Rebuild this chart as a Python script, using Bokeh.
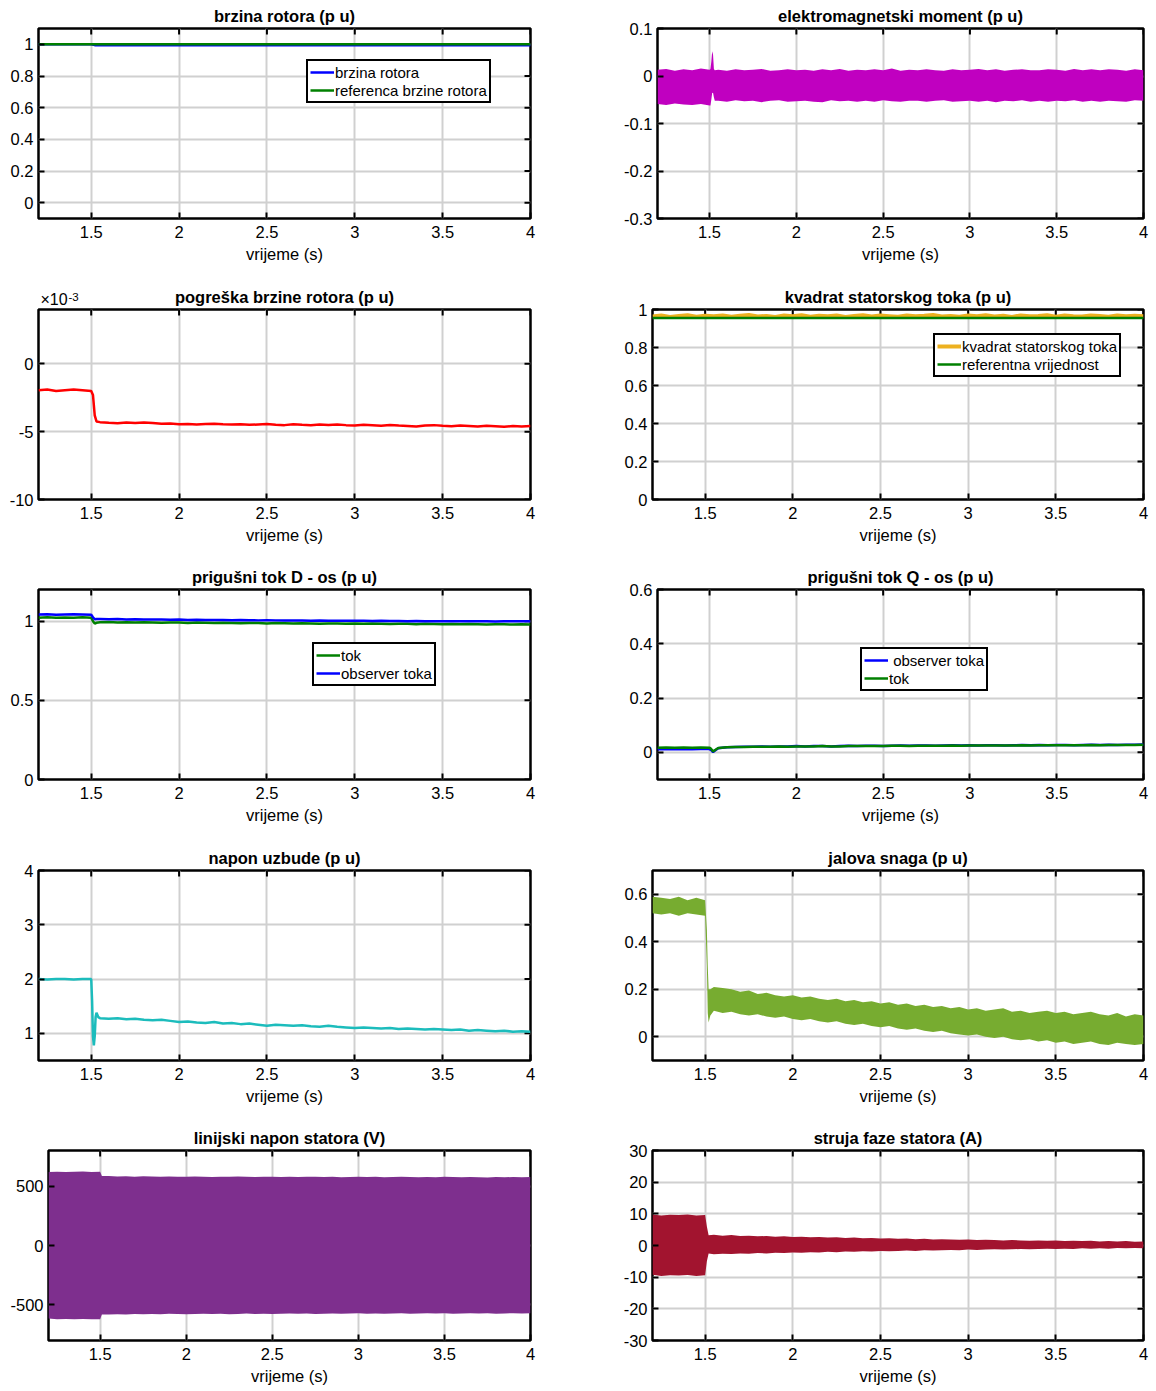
import math
from bokeh.plotting import figure
from bokeh.models import FixedTicker, Legend, LegendItem, Range1d
from bokeh.core.properties import value
from bokeh.layouts import column, row
from bokeh.embed import file_html
from bokeh.resources import INLINE

FONT = "Liberation Sans"
X_RANGE = (1.2, 4.0)
X_TICKS = [1.5, 2, 2.5, 3, 3.5, 4]
X_TICK_LABELS = ["1.5", "2", "2.5", "3", "3.5", "4"]
X_LABEL = "vrijeme (s)"

# time bases (s)
T_PRE = [1.2, 1.25, 1.3, 1.35, 1.4, 1.45, 1.5]
T_POST = [1.55, 1.6, 1.65, 1.7, 1.75, 1.8, 1.85, 1.9, 1.95, 2.0,
          2.05, 2.1, 2.15, 2.2, 2.25, 2.3, 2.35, 2.4, 2.45, 2.5,
          2.55, 2.6, 2.65, 2.7, 2.75, 2.8, 2.85, 2.9, 2.95, 3.0,
          3.05, 3.1, 3.15, 3.2, 3.25, 3.3, 3.35, 3.4, 3.45, 3.5,
          3.55, 3.6, 3.65, 3.7, 3.75, 3.8, 3.85, 3.9, 3.95, 4.0]

# 1) brzina rotora (p u)
speed_t = [1.2, 1.5, 1.52, 4.0]
speed_rotor = [1.0, 1.0, 0.995, 0.995]
speed_ref = [1.0, 1.0, 1.0, 1.0]

# 2) elektromagnetski moment (p u) - envelope of the band
torque_t = T_PRE + [1.505, 1.51, 1.515, 1.52, 1.525, 1.53] + T_POST
torque_hi = [0.013, 0.015, 0.011, 0.014, 0.012, 0.016, 0.013] + \
    [0.015, 0.03, 0.052, 0.045, 0.015, 0.012] + \
    [0.013, 0.011, 0.014, 0.012, 0.013, 0.015, 0.011, 0.012, 0.014, 0.012,
     0.013, 0.011, 0.014, 0.012, 0.015, 0.011, 0.013, 0.012, 0.014, 0.012,
     0.016, 0.011, 0.013, 0.012, 0.014, 0.012, 0.011, 0.014, 0.012, 0.013,
     0.015, 0.012, 0.014, 0.011, 0.013, 0.014, 0.012, 0.012, 0.014, 0.013,
     0.011, 0.015, 0.012, 0.014, 0.012, 0.014, 0.013, 0.011, 0.014, 0.012]
torque_lo = [-0.059, -0.061, -0.058, -0.060, -0.061, -0.059, -0.062] + \
    [-0.062, -0.05, -0.036, -0.035, -0.045, -0.052] + \
    [-0.052, -0.054, -0.051, -0.053, -0.052, -0.055, -0.052, -0.051, -0.054, -0.053,
     -0.052, -0.054, -0.055, -0.051, -0.053, -0.052, -0.054, -0.052, -0.054, -0.051,
     -0.053, -0.054, -0.052, -0.052, -0.054, -0.052, -0.051, -0.054, -0.053, -0.052,
     -0.054, -0.052, -0.055, -0.052, -0.053, -0.051, -0.054, -0.052, -0.054, -0.052,
     -0.053, -0.051, -0.054, -0.052, -0.054, -0.052, -0.053, -0.054, -0.051, -0.052]

# 3) pogreska brzine rotora (x 10^-3 p u)
err_t = T_PRE + [1.51, 1.52, 1.53] + T_POST
err_val = [-1.95, -1.9, -2.0, -1.95, -1.9, -1.95, -2.0] + [-2.3, -3.8, -4.25] + \
    [-4.30, -4.35, -4.38, -4.33, -4.36, -4.32, -4.37, -4.42, -4.40, -4.45,
     -4.43, -4.47, -4.44, -4.42, -4.46, -4.48, -4.45, -4.50, -4.47, -4.44,
     -4.49, -4.52, -4.46, -4.50, -4.53, -4.48, -4.51, -4.47, -4.52, -4.55,
     -4.50, -4.53, -4.56, -4.51, -4.55, -4.58, -4.62, -4.55, -4.52, -4.57,
     -4.60, -4.55, -4.58, -4.62, -4.57, -4.60, -4.64, -4.58, -4.62, -4.58]
err_scale_text = "×10"
err_scale_exp = "-3"

# 4) kvadrat statorskog toka (p u)
flux_t = T_PRE + T_POST
flux_sq = [0.963, 0.968, 0.961, 0.966, 0.970, 0.962, 0.967] + \
    [0.964, 0.969, 0.962, 0.967, 0.971, 0.963, 0.966, 0.961, 0.968, 0.965,
     0.970, 0.962, 0.967, 0.964, 0.969, 0.961, 0.966, 0.970, 0.963, 0.968,
     0.965, 0.962, 0.969, 0.964, 0.967, 0.971, 0.963, 0.966, 0.962, 0.968,
     0.965, 0.970, 0.963, 0.967, 0.961, 0.969, 0.964, 0.966, 0.970, 0.962,
     0.968, 0.965, 0.963, 0.969, 0.966, 0.962, 0.968, 0.964, 0.967, 0.965]
flux_ref_t = [1.2, 4.0]
flux_ref = [0.955, 0.955]

# 5) prigusni tok D - os (p u)
dflux_t = T_PRE + [1.51, 1.52, 1.53] + T_POST
dflux_tok = [1.022, 1.024, 1.021, 1.023, 1.022, 1.024, 1.022] + [1.00, 0.985, 0.99] + \
    [0.993, 0.994, 0.992, 0.993, 0.991, 0.993, 0.992, 0.990, 0.992, 0.991,
     0.989, 0.991, 0.990, 0.988, 0.990, 0.989, 0.987, 0.989, 0.988, 0.986,
     0.988, 0.987, 0.985, 0.987, 0.986, 0.984, 0.986, 0.985, 0.984, 0.985,
     0.983, 0.985, 0.984, 0.982, 0.984, 0.983, 0.981, 0.983, 0.982, 0.981,
     0.982, 0.980, 0.982, 0.981, 0.979, 0.981, 0.980, 0.979, 0.980, 0.979]
dflux_obs = [1.042, 1.043, 1.041, 1.042, 1.043, 1.042, 1.041] + [1.025, 1.012, 1.013] + \
    [1.013, 1.012, 1.013, 1.011, 1.012, 1.010, 1.011, 1.010, 1.009, 1.010,
     1.008, 1.009, 1.008, 1.007, 1.008, 1.006, 1.007, 1.006, 1.005, 1.006,
     1.005, 1.004, 1.005, 1.004, 1.003, 1.004, 1.003, 1.003, 1.002, 1.003,
     1.002, 1.001, 1.002, 1.001, 1.001, 1.000, 1.001, 1.000, 0.999, 1.000,
     0.999, 1.000, 0.999, 1.000, 0.999, 0.998, 0.999, 1.000, 0.999, 0.999]

# 6) prigusni tok Q - os (p u)
qflux_t = T_PRE + [1.51, 1.52, 1.53] + T_POST
qflux_obs = [0.011, 0.012, 0.011, 0.012, 0.011, 0.012, 0.012] + [0.008, 0.001, 0.006] + \
    [0.015, 0.019, 0.020, 0.021, 0.021, 0.022, 0.021, 0.022, 0.022, 0.023,
     0.022, 0.023, 0.023, 0.022, 0.023, 0.024, 0.023, 0.024, 0.024, 0.023,
     0.024, 0.025, 0.024, 0.025, 0.025, 0.024, 0.025, 0.026, 0.025, 0.026,
     0.025, 0.026, 0.026, 0.025, 0.026, 0.027, 0.026, 0.027, 0.026, 0.027,
     0.027, 0.026, 0.027, 0.028, 0.027, 0.028, 0.027, 0.028, 0.028, 0.029]
qflux_tok = [0.017, 0.018, 0.017, 0.018, 0.017, 0.018, 0.017] + [0.012, 0.003, 0.008] + \
    [0.016, 0.019, 0.020, 0.020, 0.021, 0.021, 0.021, 0.022, 0.021, 0.022,
     0.022, 0.022, 0.023, 0.022, 0.022, 0.023, 0.023, 0.023, 0.023, 0.023,
     0.024, 0.024, 0.023, 0.024, 0.024, 0.024, 0.024, 0.025, 0.024, 0.025,
     0.025, 0.025, 0.025, 0.025, 0.025, 0.026, 0.025, 0.026, 0.026, 0.026,
     0.026, 0.026, 0.026, 0.027, 0.026, 0.027, 0.027, 0.027, 0.027, 0.028]

# 7) napon uzbude (p u)
field_t = T_PRE + [1.505, 1.51, 1.515, 1.52, 1.525, 1.53, 1.54] + T_POST
field_v = [2.0, 1.99, 2.0, 2.0, 1.99, 2.0, 2.0] + [1.6, 0.95, 0.78, 0.95, 1.3, 1.38, 1.30] + \
    [1.28, 1.27, 1.28, 1.26, 1.27, 1.25, 1.24, 1.25, 1.23, 1.21,
     1.22, 1.20, 1.19, 1.21, 1.18, 1.19, 1.17, 1.18, 1.16, 1.14,
     1.16, 1.15, 1.14, 1.15, 1.13, 1.12, 1.14, 1.12, 1.11, 1.10,
     1.11, 1.10, 1.09, 1.10, 1.08, 1.09, 1.08, 1.07, 1.08, 1.07,
     1.06, 1.07, 1.05, 1.06, 1.05, 1.04, 1.05, 1.03, 1.04, 1.03]

# 8) jalova snaga (p u) - envelope of the band
q_t = T_PRE + [1.51, 1.515, 1.52, 1.53] + T_POST
q_hi = [0.59, 0.585, 0.58, 0.59, 0.575, 0.585, 0.575] + [0.45, 0.30, 0.20, 0.20] + \
    [0.21, 0.205, 0.20, 0.19, 0.195, 0.18, 0.185, 0.175, 0.17, 0.175,
     0.165, 0.17, 0.16, 0.155, 0.16, 0.15, 0.155, 0.145, 0.15, 0.14,
     0.145, 0.135, 0.14, 0.13, 0.135, 0.125, 0.13, 0.12, 0.125, 0.115,
     0.12, 0.11, 0.115, 0.12, 0.105, 0.11, 0.10, 0.105, 0.11, 0.10,
     0.105, 0.095, 0.10, 0.105, 0.095, 0.09, 0.10, 0.085, 0.095, 0.09]
q_lo = [0.52, 0.515, 0.52, 0.51, 0.52, 0.515, 0.51] + [0.30, 0.10, 0.06, 0.09] + \
    [0.11, 0.10, 0.105, 0.095, 0.09, 0.095, 0.085, 0.08, 0.085, 0.075,
     0.07, 0.075, 0.065, 0.06, 0.065, 0.055, 0.05, 0.055, 0.045, 0.04,
     0.045, 0.035, 0.03, 0.035, 0.025, 0.02, 0.025, 0.015, 0.01, 0.005,
     0.01, 0.0, -0.005, 0.0, -0.01, -0.015, -0.01, -0.02, -0.015, -0.025,
     -0.02, -0.03, -0.025, -0.02, -0.03, -0.035, -0.025, -0.03, -0.035, -0.03]

# 9) linijski napon statora (V) - envelope of the band
u_t = T_PRE + [1.51] + T_POST
u_hi = [620, 622, 618, 621, 623, 619, 622] + [585] + \
    [585, 582, 584, 580, 583, 581, 579, 582, 580, 578,
     581, 579, 577, 580, 578, 581, 579, 577, 580, 578,
     576, 579, 577, 580, 578, 576, 578, 575, 577, 579,
     576, 578, 575, 577, 579, 576, 574, 577, 575, 578,
     576, 574, 577, 575, 573, 576, 574, 577, 575, 576]
u_lo = [-615, -620, -618, -622, -619, -621, -620] + [-580] + \
    [-580, -578, -581, -577, -579, -576, -578, -575, -577, -579,
     -576, -574, -577, -575, -578, -576, -573, -576, -574, -577,
     -575, -572, -575, -573, -576, -574, -572, -575, -573, -571,
     -574, -572, -575, -573, -571, -574, -572, -570, -573, -571,
     -574, -572, -570, -573, -571, -574, -572, -570, -573, -571]

# 10) struja faze statora (A) - envelope of the band
i_t = T_PRE + [1.51, 1.52] + T_POST
i_hi = [9.8, 9.5, 9.7, 9.6, 9.8, 9.5, 9.6] + [6.0, 3.2] + \
    [3.4, 3.1, 3.3, 3.0, 3.1, 2.9, 3.0, 2.8, 2.9, 2.7,
     2.8, 2.6, 2.7, 2.5, 2.6, 2.4, 2.5, 2.3, 2.4, 2.2,
     2.3, 2.1, 2.2, 2.0, 2.1, 1.9, 2.0, 1.9, 1.8, 1.9,
     1.7, 1.8, 1.7, 1.6, 1.7, 1.6, 1.5, 1.6, 1.5, 1.6,
     1.4, 1.5, 1.4, 1.5, 1.3, 1.4, 1.3, 1.4, 1.2, 1.3]
i_lo = [-9.2, -9.6, -9.4, -9.5, -9.3, -9.6, -9.4] + [-5.0, -2.5] + \
    [-2.8, -2.6, -2.7, -2.5, -2.6, -2.4, -2.5, -2.3, -2.4, -2.2,
     -2.3, -2.1, -2.2, -2.0, -2.1, -1.9, -2.0, -1.8, -1.9, -1.7,
     -1.8, -1.7, -1.6, -1.7, -1.5, -1.6, -1.5, -1.4, -1.5, -1.3,
     -1.4, -1.3, -1.2, -1.3, -1.2, -1.1, -1.2, -1.1, -1.0, -1.1,
     -1.0, -1.1, -0.9, -1.0, -0.9, -1.0, -0.8, -0.9, -0.8, -0.9]

for tt, *ys in [(torque_t, torque_hi, torque_lo), (err_t, err_val), (flux_t, flux_sq),
                (dflux_t, dflux_tok, dflux_obs), (qflux_t, qflux_obs, qflux_tok),
                (field_t, field_v), (q_t, q_hi, q_lo), (u_t, u_hi, u_lo), (i_t, i_hi, i_lo)]:
    for yy in ys:
        assert len(tt) == len(yy), (len(tt), len(yy))

BLUE = "#0000ff"
GREEN = "#008000"
LW = 2.5
FIG_W = 578
TXT = "16.5px"


def panel(title, y_range, y_ticks, y_labels, left, right, height, bottom):
    p = figure(width=FIG_W, height=height, x_range=Range1d(*X_RANGE), y_range=Range1d(*y_range),
               output_backend="svg", toolbar_location=None,
               min_border_left=left, min_border_right=right, min_border_top=28,
               min_border_bottom=bottom)
    p.title.text = title
    p.title.align = "center"
    p.title.text_font = FONT
    p.title.text_font_size = TXT
    p.title.text_font_style = "bold"
    p.title.text_color = "black"
    p.title.standoff = 8
    p.xaxis.ticker = FixedTicker(ticks=X_TICKS)
    p.xaxis.major_label_overrides = dict(zip(X_TICKS, X_TICK_LABELS))
    p.xaxis.axis_label = X_LABEL
    p.yaxis.ticker = FixedTicker(ticks=y_ticks)
    p.yaxis.major_label_overrides = dict(zip(y_ticks, y_labels))
    for ax in p.axis:
        ax.axis_line_color = None
        ax.major_tick_in = 6
        ax.major_tick_out = 0
        ax.major_tick_line_color = "black"
        ax.major_tick_line_width = 2
        ax.minor_tick_in = 0
        ax.minor_tick_out = 0
        ax.major_label_text_font = FONT
        ax.major_label_text_font_size = TXT
        ax.major_label_text_color = "black"
        ax.major_label_standoff = 5
        ax.axis_label_text_font = FONT
        ax.axis_label_text_font_size = TXT
        ax.axis_label_text_font_style = "normal"
        ax.axis_label_text_color = "black"
    p.xaxis.major_label_standoff = 7
    p.xaxis.axis_label_standoff = 4
    # inward ticks on the top and right edges of the box, at the axis tick values
    p.ray(x=X_TICKS, y=[y_range[1]] * len(X_TICKS), length=6, length_units="screen",
          angle=-math.pi / 2, line_color="black", line_width=2)
    p.ray(x=[X_RANGE[1]] * len(y_ticks), y=y_ticks, length=6, length_units="screen",
          angle=math.pi, line_color="black", line_width=2)
    p.grid.grid_line_color = "#d0d0d0"
    p.grid.grid_line_width = 2
    p.outline_line_color = "black"
    p.outline_line_width = 2.5
    p.outline_line_alpha = 1.0
    return p


def add_legend(p, items, loc):
    lg = Legend(items=[LegendItem(label=l, renderers=[r]) for l, r in items], location=loc,
                border_line_color="black", border_line_width=2, border_line_alpha=1.0,
                background_fill_color="white", background_fill_alpha=1.0,
                label_text_font=FONT, label_text_font_size="15px", label_text_color="black",
                padding=2, spacing=0, margin=0, glyph_width=24, glyph_height=18,
                label_height=18, label_standoff=1)
    p.add_layout(lg)


# --- row 1
p1 = panel("brzina rotora (p u)", (-0.1, 1.1), [0, 0.2, 0.4, 0.6, 0.8, 1],
           ["0", "0.2", "0.4", "0.6", "0.8", "1"], 38, 48, 281, 63)
r1a = p1.line(speed_t, speed_rotor, line_color=BLUE, line_width=LW)
r1b = p1.line(speed_t, speed_ref, line_color=GREEN, line_width=LW)
add_legend(p1, [("brzina rotora", r1a), ("referenca brzine rotora", r1b)], (268, 115))

p2 = panel("elektromagnetski moment (p u)", (-0.3, 0.1), [-0.3, -0.2, -0.1, 0, 0.1],
           ["-0.3", "-0.2", "-0.1", "0", "0.1"], 79, 13, 281, 63)
p2.varea(x=torque_t, y1=torque_lo, y2=torque_hi, fill_color="#c000c0")

# --- row 2
ERR_RANGE = (-10, 4)
p3 = panel("pogreška brzine rotora (p u)", ERR_RANGE, [-10, -5, 0], ["-10", "-5", "0"],
           38, 48, 280, 62)
p3.line(err_t, err_val, line_color="#ff0000", line_width=LW)
# exponent note (x10^-3) just above the top-left corner of the box
p3.text(x=[X_RANGE[0]], y=[ERR_RANGE[1]], text=[err_scale_text], x_offset=2, y_offset=-2,
        text_font=value(FONT), text_font_size=value("16px"), text_color="black",
        text_baseline="bottom", level="overlay")
p3.text(x=[X_RANGE[0]], y=[ERR_RANGE[1]], text=[err_scale_exp], x_offset=30, y_offset=-9,
        text_font=value(FONT), text_font_size=value("11.5px"), text_color="black",
        text_baseline="bottom", level="overlay")

p4 = panel("kvadrat statorskog toka (p u)", (0, 1), [0, 0.2, 0.4, 0.6, 0.8, 1],
           ["0", "0.2", "0.4", "0.6", "0.8", "1"], 74, 13, 280, 62)
r4a = p4.line(flux_t, flux_sq, line_color="#edb120", line_width=4)
r4b = p4.line(flux_ref_t, flux_ref, line_color=GREEN, line_width=LW)
add_legend(p4, [("kvadrat statorskog toka", r4a), ("referentna vrijednost", r4b)], (281, 122))

# --- row 3
p5 = panel("prigušni tok D - os (p u)", (0, 1.2), [0, 0.5, 1], ["0", "0.5", "1"],
           38, 48, 281, 63)
r5a = p5.line(dflux_t, dflux_tok, line_color=GREEN, line_width=LW)
r5b = p5.line(dflux_t, dflux_obs, line_color=BLUE, line_width=LW)
add_legend(p5, [("tok", r5a), ("observer toka", r5b)], (274, 93))

p6 = panel("prigušni tok Q - os (p u)", (-0.1, 0.6), [0, 0.2, 0.4, 0.6],
           ["0", "0.2", "0.4", "0.6"], 79, 13, 281, 63)
r6a = p6.line(qflux_t, qflux_obs, line_color=BLUE, line_width=LW)
r6b = p6.line(qflux_t, qflux_tok, line_color=GREEN, line_width=LW)
add_legend(p6, [(" observer toka", r6a), ("tok", r6b)], (203, 88))

# --- row 4
p7 = panel("napon uzbude (p u)", (0.5, 4), [1, 2, 3, 4], ["1", "2", "3", "4"],
           38, 48, 280, 62)
p7.line(field_t, field_v, line_color="#1cbcbc", line_width=LW)

p8 = panel("jalova snaga (p u)", (-0.1, 0.7), [0, 0.2, 0.4, 0.6],
           ["0", "0.2", "0.4", "0.6"], 74, 13, 280, 62)
p8.varea(x=q_t, y1=q_lo, y2=q_hi, fill_color="#77ac30")

# --- row 5
p9 = panel("linijski napon statora (V)", (-800, 800), [-500, 0, 500], ["-500", "0", "500"],
           48, 48, 268, 50)
p9.varea(x=u_t, y1=u_lo, y2=u_hi, fill_color="#7e2f8e")

p10 = panel("struja faze statora (A)", (-30, 30), [-30, -20, -10, 0, 10, 20, 30],
            ["-30", "-20", "-10", "0", "10", "20", "30"], 74, 13, 268, 50)
p10.varea(x=i_t, y1=i_lo, y2=i_hi, fill_color="#a2142f")

layout = column(row(p1, p2), row(p3, p4), row(p5, p6), row(p7, p8), row(p9, p10))

open("out.html", "w").write(file_html(layout, INLINE))
